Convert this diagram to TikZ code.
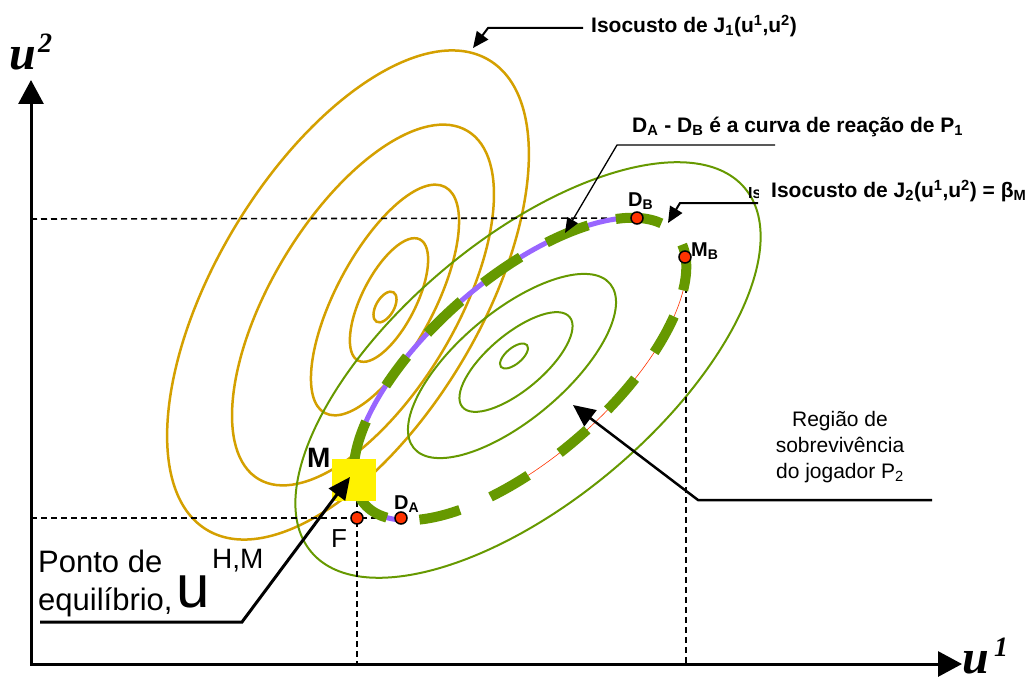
\documentclass[tikz,border=0pt]{standalone}
\usepackage{fontspec}
\setmainfont{Liberation Sans}
\newfontfamily\eixofont{Liberation Serif}
\usetikzlibrary{arrows.meta, positioning, calc}
\definecolor{isoum}{RGB}{212,160,0}
\definecolor{isodois}{RGB}{102,153,0}
\definecolor{reacao}{RGB}{153,102,255}
\definecolor{pontoverm}{RGB}{255,51,0}

\begin{document}
\begin{tikzpicture}[x=1pt, y=-1pt,
    declare function={ex(\t)=520+206*cos(41)*cos(\t)-90*sin(41)*sin(\t);
                       ey(\t)=369-206*sin(41)*cos(\t)-90*cos(41)*sin(\t);},
    guia/.style={black, line width=1.6pt, dash pattern=on 6pt off 4pt},
    traco/.style={isodois, line width=10pt, line cap=butt},
    seta/.style={black, line width=2pt, -{Triangle[length=16pt,width=14pt]}},
    setagrande/.style={black, line width=3pt, -{Triangle[length=22pt,width=20pt]}},
    dot/.style={circle, fill=pontoverm, draw=black, line width=1.5pt, inner sep=0pt, minimum size=12pt},
    rotulo/.style={font=\fontsize{21}{25}\selectfont\bfseries, inner sep=0pt},
    letra/.style={font=\fontsize{20}{20}\selectfont\bfseries, inner sep=0pt, anchor=base west},
    eixo/.style={font=\fontsize{48}{48}\selectfont\eixofont\bfseries\itshape, inner sep=0pt, anchor=base west},
    expoente/.style={font=\fontsize{28}{28}\selectfont\eixofont\bfseries\itshape, inner sep=0pt, anchor=base west}]
  \useasboundingbox (0,0) rectangle (1028,682);

  % Isocustos de J1
  \foreach \cx/\cy/\a/\b/\r in {348/295/274/132/59, 363/305/203/92/59, 385/300/128/49/62,
                                389/300/68/27/63, 385/307/17/9/60}
    \draw[isoum, line width=2.5pt, rotate around={\r:(\cx,\cy)}] (\cx,\cy) ellipse [x radius=\a, y radius=\b];
  % Isocustos de J2
  \foreach \cx/\cy/\a/\b in {528/370/283/131, 512/366/128/54, 516/362/70/28, 514/356/17/8}
    \draw[isodois, line width=2pt, rotate around={40:(\cx,\cy)}] (\cx,\cy) ellipse [x radius=\a, y radius=\b];

  % Pontos
  \coordinate (origem) at (31,664);
  \coordinate (topo) at (31,80);
  \coordinate (fim) at (962,664);
  \coordinate (yDB) at (31,219);
  \coordinate (yDA) at (31,518);
  \node[fill=yellow, minimum width=44pt, minimum height=42pt, inner sep=0pt] (boxM) at (354,480) {};
  \coordinate (F) at (357,518);
  \coordinate (DA) at (401,518);
  \coordinate (DB) at (637,218);
  \coordinate (MB) at (685,257);
  \coordinate (MBfim) at (686,287);

  % Linhas de chamada
  \draw[guia] (yDB) -- (DB);
  \draw[guia] (yDA) -- (DA);
  \draw[guia] (F |- boxM.south) -- (F |- origem);
  \draw[guia] (MBfim) -- (MBfim |- origem);

  % Curva de reacao e isocusto beta_M
  \draw[reacao, line width=5pt] plot[domain=24:160, variable=\t, samples=40, smooth] ({ex(\t)},{ey(\t)});
  \draw[reacao, line width=5pt] plot[domain=180:203, variable=\t, samples=10, smooth] ({ex(\t)},{ey(\t)});
  \draw[pontoverm, line width=0.6pt] plot[domain=-108:-31, variable=\t, samples=30, smooth] ({ex(\t)},{ey(\t)});
  \foreach \ta/\tb in {137/156, 112/123, 90/103, 69/82, 45/60, 11/34, -32/-8, -57/-43,
                       -79/-67, -97/-87, -121/-108, -148/-132, 170/196}
    \draw[traco] plot[domain=\ta:\tb, variable=\t, samples=10, smooth] ({ex(\t)},{ey(\t)});
  \node[fill=yellow, minimum width=44pt, minimum height=42pt, inner sep=0pt] at (boxM) {};

  \node[dot] (dotF) at (F) {};
  \node[dot] (dotDA) at (DA) {};
  \node[dot] (dotDB) at (DB) {};
  \node[dot] (dotMB) at (MB) {};

  % Eixos
  \draw[line width=3pt, line join=miter, {Triangle[length=24pt,width=25pt]}-{Triangle[length=24pt,width=25pt]}]
    (topo) -- (origem) -- (fim);
  \node[eixo] (u2) at (9,70) {u};
  \node[expoente] (u2exp) at (38,53) {2};
  \node[eixo] (u1) at (962,673) {u};
  \node[expoente] (u1exp) at (994,656) {1};

  % Rotulos dos pontos
  \node[font=\fontsize{28}{28}\selectfont\bfseries, inner sep=0pt, anchor=base west] (labM) at (307,467) {M};
  \node[font=\fontsize{26}{26}\selectfont, inner sep=0pt, anchor=base west] (labF) at (331,547) {F};
  \node[letra] (labDA) at (394,509) {D\textsubscript{A}};
  \node[letra] (labDB) at (628,206) {D\textsubscript{B}};
  \node[letra] (labMB) at (691,256) {M\textsubscript{B}};

  % Isocusto de J1
  \coordinate (kJ1) at (488,28);
  \coordinate (tipJ1) at (473,48);
  \node[rotulo, anchor=west] (labJ1) at (591,26) {Isocusto de J\textsubscript{1}(u\textsuperscript{1},u\textsuperscript{2})};
  \draw[seta] ([xshift=-8pt,yshift=-2pt]labJ1.west) -- (kJ1) -- (tipJ1);

  % Curva de reacao
  \coordinate (iniReacao) at (775,145);
  \coordinate (kReacao) at (617,145);
  \coordinate (tipReacao) at (565,233);
  \node[rotulo, anchor=west] (labReacao) at (632,127) {D\textsubscript{A} - D\textsubscript{B} é a curva de reação de P\textsubscript{1}};
  \draw[black, line width=1.3pt, -{Triangle[length=15pt,width=12pt]}] (iniReacao) -- (kReacao) -- (tipReacao);

  % Isocusto de J2
  \node[font=\fontsize{16}{16}\selectfont\bfseries, inner sep=0pt, anchor=base west] (labIs) at (748,198) {Is};
  \node[rotulo, anchor=west, fill=white, inner xsep=12pt, inner ysep=2pt] (labJ2) at (759,191) {Isocusto de J\textsubscript{2}(u\textsuperscript{1},u\textsuperscript{2}) = β\textsubscript{M}};
  \coordinate (iniJ2) at (758,203);
  \coordinate (kJ2) at (680,203);
  \coordinate (tipJ2) at (668,223);
  \draw[seta] (iniJ2) -- (kJ2) -- (tipJ2);

  % Regiao de sobrevivencia
  \node[font=\fontsize{21}{26}\selectfont, align=center, inner sep=0pt] (labRegiao) at (840,447) {Região de\\sobrevivência\\do jogador P\textsubscript{2}};
  \coordinate (iniRegiao) at (932,500);
  \coordinate (kRegiao) at (698,500);
  \coordinate (tipRegiao) at (573,405);
  \draw[black, line width=2.5pt, -{Triangle[length=22pt,width=20pt]}] (iniRegiao) -- (kRegiao) -- (tipRegiao);

  % Ponto de equilibrio
  \node[font=\fontsize{31}{31}\selectfont, inner sep=0pt, anchor=base west] (labPonto) at (38,572) {Ponto de};
  \node[font=\fontsize{31}{31}\selectfont, inner sep=0pt, anchor=base west] (labEquil) at (38,610) {equilíbrio,};
  \node[font=\fontsize{60}{60}\selectfont, inner sep=0pt, anchor=base west] (labU) at (176,607) {u};
  \node[font=\fontsize{28}{28}\selectfont, inner sep=0pt, anchor=base west] (labHM) at (212,568) {H,M};
  \coordinate (iniPonto) at (40,622);
  \coordinate (kPonto) at (242,622);
  \coordinate (tipPonto) at (350,477);
  \draw[setagrande] (iniPonto) -- (kPonto) -- (tipPonto);
\end{tikzpicture}
\end{document}
